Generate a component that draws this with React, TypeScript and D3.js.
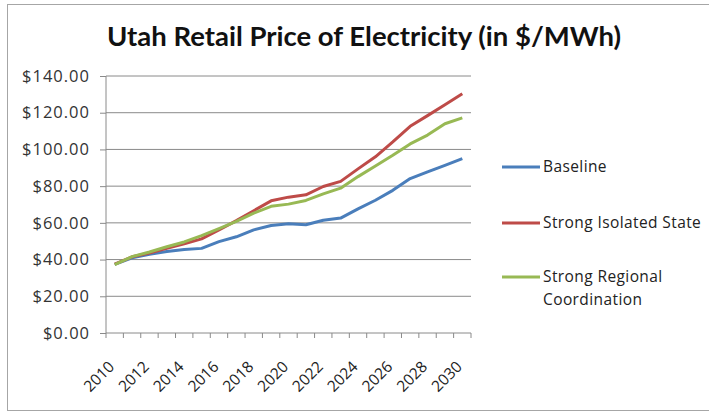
import { useEffect, useRef } from 'react'
import * as d3 from 'd3'

const years = d3.range(2010, 2031).map(String)
const baseline = [37.4, 41.0, 42.9, 44.4, 45.5, 46.1, 49.8, 52.4, 56.2, 58.6, 59.5, 59.0, 61.4, 62.6, 67.6, 72.3, 77.7, 84.1, 87.8, 91.3, 95.0]
const isolated = [37.5, 41.5, 43.6, 46.2, 48.6, 51.3, 56.1, 61.2, 66.6, 72.0, 74.0, 75.3, 79.8, 82.6, 89.4, 96.0, 104.1, 112.6, 118.4, 124.3, 130.3]
const regional = [37.2, 41.6, 44.1, 47.0, 49.6, 53.0, 56.8, 60.8, 65.3, 69.0, 70.2, 72.2, 75.8, 78.9, 85.2, 91.0, 96.8, 103.0, 107.8, 114.0, 117.2]
const yTicks = [0, 20, 40, 60, 80, 100, 120, 140]
const xLabels = years.filter((y, i) => i % 2 === 0)

const series = [
  { name: 'Baseline', values: baseline, color: '#4a7ebb' },
  { name: 'Strong Isolated State', values: isolated, color: '#be4b48' },
  { name: 'Strong Regional Coordination', values: regional, color: '#98b954' },
]

const W = 709
const H = 413
const plot = { left: 106, right: 471, top: 76, bottom: 333 }
const font = '"Open Sans", Lato, sans-serif'

const App = () => {
  const svgRef = useRef<SVGSVGElement>(null)

  useEffect(() => {
    const svg = d3.select(svgRef.current)
    svg.selectAll('*').remove()

    const x = d3.scaleBand().domain(years).range([plot.left, plot.right])
    const y = d3.scaleLinear().domain([0, 140]).range([plot.bottom, plot.top])

    // chart frame
    svg.append('rect').attr('x', 7.5).attr('y', 4.5).attr('width', 720).attr('height', 406)
      .attr('fill', 'white').attr('stroke', '#a6a6a6').attr('stroke-width', 1)

    svg.append('text').text('Utah Retail Price of Electricity (in $/MWh)')
      .attr('x', 364).attr('y', 46).attr('text-anchor', 'middle')
      .style('font-family', 'Lato, sans-serif').style('font-size', '27.5px').style('font-weight', 'bold')
      .attr('fill', '#111')

    // gridlines
    svg.append('g').selectAll('line').data(yTicks.filter((d) => d > 0)).join('line')
      .attr('x1', plot.left).attr('x2', plot.right)
      .attr('y1', (d) => y(d)).attr('y2', (d) => y(d))
      .attr('stroke', '#8a8a8a').attr('stroke-width', 1)

    const yAxis = svg.append('g').attr('transform', `translate(${plot.left},0)`)
      .call(d3.axisLeft(y).tickValues(yTicks).tickSize(6).tickPadding(10).tickFormat((d) => '$' + d3.format('.2f')(d as number)))
    yAxis.select('.domain').attr('stroke', '#8a8a8a').attr('d', `M0,${plot.top}V${plot.bottom}`)
    yAxis.selectAll('.tick line').attr('stroke', '#8a8a8a')
    yAxis.selectAll('text').style('font-family', font).style('font-size', '16.5px')
      .style('letter-spacing', '1px').attr('fill', '#333')

    const xAxis = svg.append('g').attr('transform', `translate(0,${plot.bottom})`)
    xAxis.append('line').attr('x1', plot.left).attr('x2', plot.right).attr('stroke', '#8a8a8a')
    xAxis.selectAll('line.tk').data(d3.range(years.length + 1)).join('line').attr('class', 'tk')
      .attr('x1', (i) => plot.left + i * x.bandwidth()).attr('x2', (i) => plot.left + i * x.bandwidth())
      .attr('y1', 0).attr('y2', 5).attr('stroke', '#8a8a8a')
    xAxis.selectAll('text').data(xLabels).join('text').text((d) => d)
      .attr('transform', (d) => `translate(${(x(d) as number) + x.bandwidth() / 2 - 7},${27}) rotate(-45)`)
      .attr('text-anchor', 'end').attr('dy', '0.7em')
      .style('font-family', font).style('font-size', '15.5px').attr('fill', '#222')

    const line = d3.line<number>()
      .x((d, i) => (x(years[i]) as number) + x.bandwidth() / 2)
      .y((d) => y(d))

    svg.append('g').selectAll('path').data(series).join('path')
      .attr('d', (s) => line(s.values))
      .attr('fill', 'none').attr('stroke', (s) => s.color).attr('stroke-width', 3)
      .attr('stroke-linejoin', 'round')

    const legendY = [167, 223, 277]
    const lg = svg.append('g').selectAll('g').data(series).join('g')
      .attr('transform', (s, i) => `translate(502,${legendY[i]})`)
    lg.append('line').attr('x1', 0).attr('x2', 38).attr('stroke', (s) => s.color).attr('stroke-width', 3)
    lg.append('text').attr('x', 41)
      .style('font-family', font).style('font-size', '15.5px').style('letter-spacing', '0.4px').attr('fill', '#222')
      .each(function (s) {
        const words = s.name === 'Strong Regional Coordination' ? ['Strong Regional', 'Coordination'] : [s.name]
        d3.select(this).selectAll('tspan').data(words).join('tspan')
          .attr('x', 41).attr('dy', (w, j) => (j === 0 ? '0.35em' : '1.45em')).text((w) => w)
      })
  }, [])

  return (
    <svg ref={svgRef} width={W} height={H} style={{ position: 'absolute', left: 0, top: 0, background: 'white' }} />
  )
}

export default App
